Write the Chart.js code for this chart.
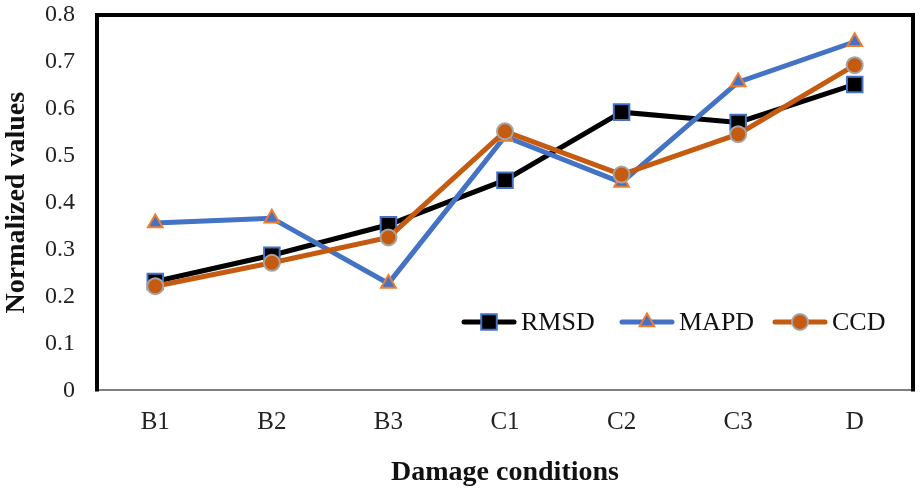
<!DOCTYPE html>
<html>
<head>
<meta charset="utf-8">
<script src="https://cdn.jsdelivr.net/npm/chart.js@4"></script>
<style>
  html, body { margin: 0; padding: 0; background: #fff; }
  #wrap { width: 923px; height: 497px; }
</style>
</head>
<body>
<div id="wrap"><canvas id="lineChart"></canvas></div>
<script>
// categories and series
var conditions = ["B1", "B2", "B3", "C1", "C2", "C3", "D"];
var rmsdValues = [0.232, 0.288, 0.353, 0.448, 0.593, 0.571, 0.652];
var mapdValues = [0.357, 0.367, 0.228, 0.541, 0.443, 0.657, 0.743];
var ccdValues  = [0.222, 0.272, 0.326, 0.552, 0.460, 0.546, 0.693];
var yTicks = [0, 0.1, 0.2, 0.3, 0.4, 0.5, 0.6, 0.7, 0.8];

var serif = "'Liberation Serif', 'Times New Roman', serif";

/* frame: thick black left/top/right, gray bottom comes from the x axis border */
var framePlugin = {
    id: 'frame',
    afterDatasetsDraw: function (chart) {
        var a = chart.chartArea, ctx = chart.ctx;
        ctx.save();
        ctx.strokeStyle = '#000';
        ctx.lineWidth = 4;
        ctx.lineCap = 'square';
        ctx.beginPath();
        ctx.moveTo(a.left, a.bottom - 1);
        ctx.lineTo(a.left, a.top);
        ctx.lineTo(a.right, a.top);
        ctx.lineTo(a.right, a.bottom - 1);
        ctx.stroke();
        ctx.restore();
    }
};

/* legend inside the plot: line sample with marker, like the original */
var insideLegend = {
    id: 'insideLegend',
    afterDraw: function (chart) {
        var ctx = chart.ctx;
        var y = 322;
        var starts = [464, 622, 775];
        ctx.save();
        ctx.font = "26px " + serif;
        ctx.textBaseline = 'middle';
        chart.data.datasets.forEach(function (ds, i) {
            var x0 = starts[i];
            ctx.strokeStyle = ds.borderColor;
            ctx.lineWidth = ds.borderWidth;
            ctx.lineCap = 'round';
            ctx.beginPath();
            ctx.moveTo(x0, y);
            ctx.lineTo(x0 + 50, y);
            ctx.stroke();
            ctx.fillStyle = ds.pointBackgroundColor;
            ctx.strokeStyle = ds.pointBorderColor;
            ctx.lineWidth = ds.pointBorderWidth;
            Chart.helpers.drawPoint(ctx, {
                pointStyle: ds.pointStyle,
                radius: ds.pointRadius,
                rotation: 0,
                borderWidth: ds.pointBorderWidth
            }, x0 + 25, y);
            ctx.fillStyle = '#111';
            ctx.fillText(ds.label, x0 + 57, y + 1);
        });
        ctx.restore();
    }
};

var ctxLine = document.getElementById('lineChart');
var lineChart = new Chart(ctxLine, {
    type: 'line',
    data: {
        labels: conditions,
        datasets: [{
            label: "RMSD",
            data: rmsdValues,
            order: 2,
            borderColor: "#000000",
            borderWidth: 5,
            pointStyle: 'rect',
            pointRadius: 11,
            pointBackgroundColor: "#000000",
            pointBorderColor: "#4472C4",
            pointBorderWidth: 2,
            tension: 0
        }, {
            label: "MAPD",
            data: mapdValues,
            order: 1,
            borderColor: "#4472C4",
            borderWidth: 5,
            pointStyle: 'triangle',
            pointRadius: 8.5,
            pointBackgroundColor: "#4472C4",
            pointBorderColor: "#ED7D31",
            pointBorderWidth: 2,
            tension: 0
        }, {
            label: "CCD",
            data: ccdValues,
            order: 0,
            borderColor: "#C55A11",
            borderWidth: 5,
            pointStyle: 'circle',
            pointRadius: 8,
            pointBackgroundColor: "#C55A11",
            pointBorderColor: "#A5A5A5",
            pointBorderWidth: 2,
            tension: 0
        }]
    },
    options: {
        responsive: true,
        maintainAspectRatio: false,
        animation: false,
        layout: { autoPadding: false, padding: { top: 0, right: 10, left: 0, bottom: 7 } },
        plugins: {
            legend: { display: false },
            tooltip: { enabled: false }
        },
        scales: {
            x: {
                offset: true,
                grid: { display: false, drawTicks: false },
                border: { display: true, color: '#7f7f7f', width: 2 },
                ticks: {
                    color: '#222',
                    font: { family: serif, size: 25 },
                    padding: 17
                },
                title: {
                    display: true,
                    text: 'Damage conditions',
                    color: '#111',
                    font: { family: serif, size: 28, weight: 'bold' },
                    padding: { top: 2, bottom: 0 }
                }
            },
            y: {
                min: 0,
                max: 0.8,
                afterBuildTicks: function (scale) {
                    scale.ticks = yTicks.map(function (v) { return { value: v }; });
                },
                afterFit: function (scale) {
                    scale.width = 97;
                    scale.paddingTop = 15;
                },
                grid: { display: false, drawTicks: false },
                border: { display: false },
                ticks: {
                    color: '#222',
                    font: { family: serif, size: 24 },
                    padding: 22,
                    callback: function (v) { return String(Math.round(v * 10) / 10); }
                },
                title: {
                    display: true,
                    text: 'Normalized values',
                    color: '#111',
                    font: { family: serif, size: 28, weight: 'bold' },
                    padding: { top: 0, bottom: 4 }
                }
            }
        }
    },
    plugins: [framePlugin, insideLegend]
});
</script>
</body>
</html>
